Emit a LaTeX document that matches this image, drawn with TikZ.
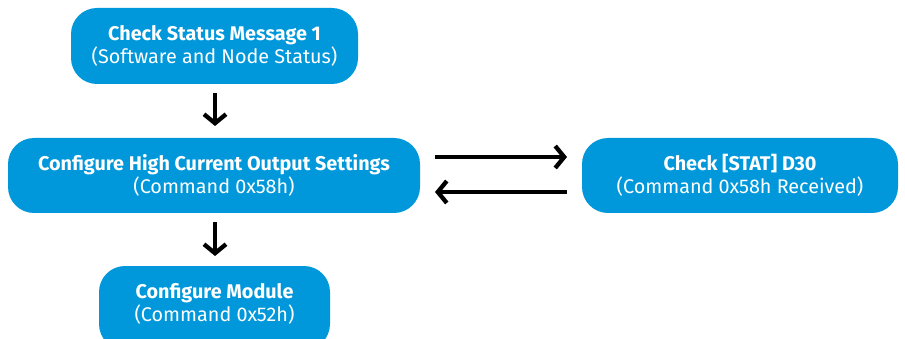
\documentclass[tikz,border=0pt]{standalone}
\usepackage{fontspec}
\setmainfont{Fira Sans}
\usetikzlibrary{arrows.meta}
\definecolor{boxblue}{RGB}{0,152,219}
\begin{document}
\begin{tikzpicture}[x=1pt,y=-1pt,
  box/.style={fill=boxblue,rounded corners=26pt,draw=none},
  lbl/.style={text=white,align=center,font=\fontsize{19.8}{22.5}\selectfont},
  arr/.style={line width=4.3pt,-{Straight Barb[length=9pt,width=22pt,line width=4.3pt]}}]
\useasboundingbox (0,0) rectangle (905,339);
\path[box] (71,8) rectangle (358,84);
\node[lbl] (n1) at (214.5,46) {\textbf{Check Status Message 1}\\(Software and Node Status)};
\path[box] (8,138) rectangle (420,213);
\node[lbl] (n2) at (214,175.5) {\textbf{Configure High Current Output Settings}\\(Command 0x58h)};
\path[box] (582,138) rectangle (898,213);
\node[lbl] (n3) at (740,175.5) {\textbf{Check [STAT] D30}\\(Command 0x58h Received)};
\path[box] (99,266) rectangle (330,350);
\node[lbl] (n4) at (214.5,304) {\textbf{Configure Module}\\(Command 0x52h)};
\coordinate (a1s) at (215,93); \coordinate (a1e) at (215,126);
\coordinate (a2s) at (215,222); \coordinate (a2e) at (215,256);
\coordinate (a3s) at (435,157); \coordinate (a3e) at (567,157);
\coordinate (a4s) at (567,192); \coordinate (a4e) at (435,192);
\draw[arr] (a1s) -- (a1e);
\draw[arr] (a2s) -- (a2e);
\draw[arr] (a3s) -- (a3e);
\draw[arr] (a4s) -- (a4e);
\end{tikzpicture}
\end{document}
